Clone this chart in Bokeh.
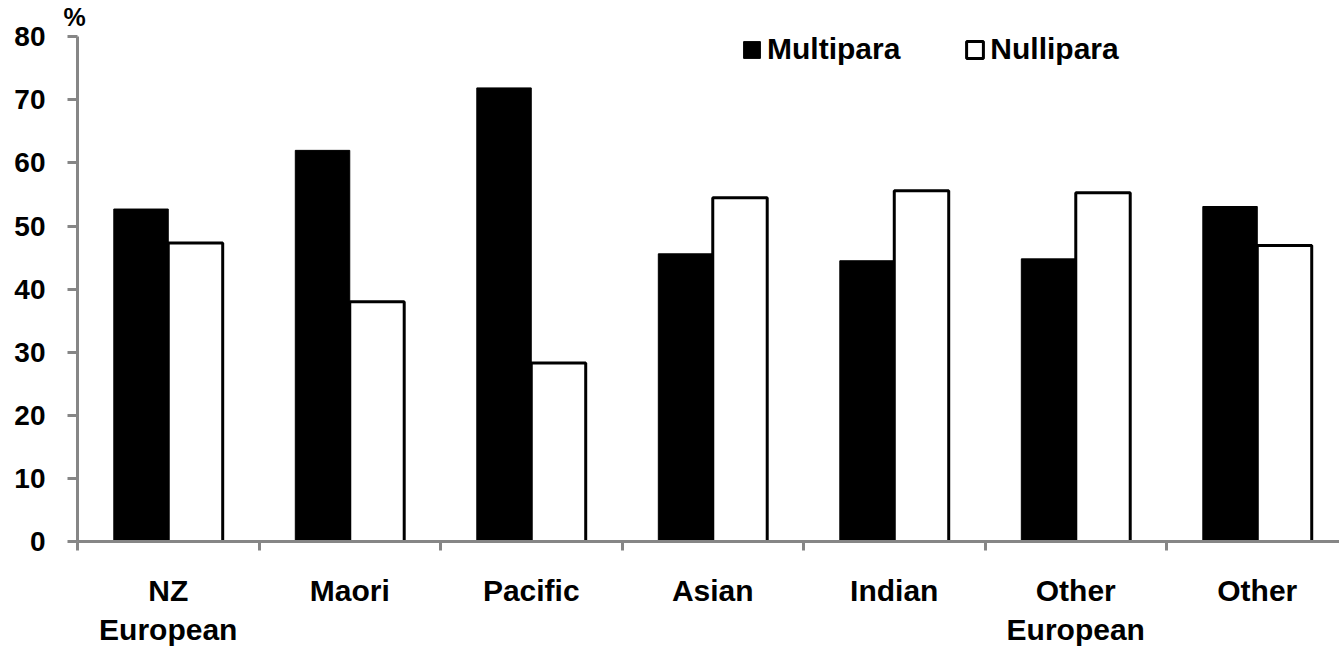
from bokeh.plotting import figure
from bokeh.models import Range1d, FixedTicker, Legend, LegendItem, ColumnDataSource
from bokeh.embed import file_html
from bokeh.resources import INLINE

categories = ["NZ\nEuropean", "Maori", "Pacific", "Asian", "Indian", "Other\nEuropean", "Other"]
multipara = [52.7, 62.0, 71.9, 45.6, 44.5, 44.8, 53.1]
nullipara = [47.3, 38.0, 28.3, 54.5, 55.6, 55.3, 46.9]
y_ticks = [0, 10, 20, 30, 40, 50, 60, 70, 80]

FONT = "Liberation Sans"
GRAY = "#868686"

centers = [i + 0.5 for i in range(len(categories))]
src = ColumnDataSource(dict(
    xm=[c - 0.15 for c in centers],
    xn=[c + 0.15 for c in centers],
    m=multipara,
    n=nullipara,
))

p = figure(width=1339, height=649, output_backend="svg", toolbar_location=None,
           x_range=Range1d(0, 6.953), y_range=Range1d(0, 81),
           min_border_left=77, min_border_right=0, min_border_top=28, min_border_bottom=10)
p.outline_line_color = None
p.xgrid.visible = False
p.ygrid.visible = False
p.background_fill_color = "white"

p.title.text = "%"
p.title.align = "left"
p.title.offset = -14
p.title.standoff = 0
p.title.text_font = FONT
p.title.text_font_style = "bold"
p.title.text_font_size = "25px"
p.title.text_color = "black"

rm = p.vbar(x="xm", top="m", width=0.3, source=src, fill_color="black", line_color="black", line_width=1)
rn = p.vbar(x="xn", top="n", width=0.3, source=src, fill_color="white", line_color="black", line_width=3)

# y axis
ya = p.yaxis[0]
ya.ticker = FixedTicker(ticks=y_ticks)
ya.bounds = (0, 80)
ya.axis_line_color = GRAY
ya.axis_line_width = 3
ya.major_tick_line_color = GRAY
ya.major_tick_line_width = 3
ya.major_tick_out = 10
ya.major_tick_in = 0
ya.minor_tick_line_color = None
ya.major_label_standoff = 22
ya.major_label_text_font = FONT
ya.major_label_text_font_style = "bold"
ya.major_label_text_font_size = "28px"
ya.major_label_text_color = "black"

# x axis
xa = p.xaxis[0]
xa.ticker = FixedTicker(ticks=centers, minor_ticks=list(range(len(categories) + 1)))
xa.major_label_overrides = {c: lab for c, lab in zip(centers, categories)}
xa.axis_line_color = GRAY
xa.axis_line_width = 3
xa.major_tick_line_color = None
xa.major_tick_out = 0
xa.major_tick_in = 0
xa.minor_tick_line_color = GRAY
xa.minor_tick_line_width = 3
xa.minor_tick_out = 9
xa.minor_tick_in = 0
xa.major_label_standoff = 23
xa.major_label_text_font = FONT
xa.major_label_text_font_style = "bold"
xa.major_label_text_font_size = "30px"
xa.major_label_text_color = "black"
xa.major_label_text_align = "center"

legend = Legend(items=[LegendItem(label="Multipara", renderers=[rm]),
                       LegendItem(label="Nullipara", renderers=[rn])],
                orientation="horizontal", location=(664, 475))
legend.border_line_color = None
legend.background_fill_alpha = 0
legend.padding = 0
legend.margin = 0
legend.glyph_width = 21
legend.glyph_height = 21
legend.label_standoff = 5
legend.spacing = 64
legend.label_text_font = FONT
legend.label_text_font_style = "bold"
legend.label_text_font_size = "30px"
legend.label_text_color = "black"
p.add_layout(legend)

open("out.html", "w").write(file_html(p, INLINE))
